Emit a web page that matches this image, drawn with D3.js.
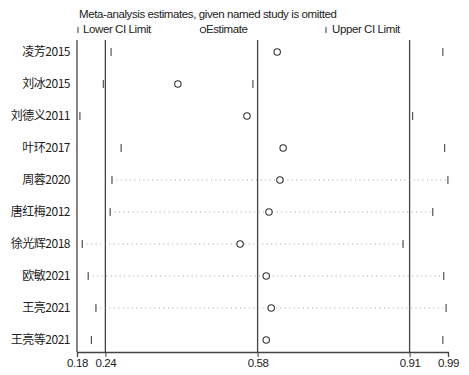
<!DOCTYPE html>
<meta charset="utf-8">
<script src="https://d3js.org/d3.v7.min.js"></script>
<style>
  body { margin: 0; background: #fff; }
  text { font-family: "Liberation Sans", Arial, sans-serif; fill: #222; }
  .lab { font-family: "Noto Sans CJK SC", sans-serif; }
</style>
<div id="my_dataviz"></div>
<script>
    // Data: study omitted, and the pooled estimate with its CI
    const studies = ["凌芳2015", "刘冰2015", "刘德义2011", "叶环2017", "周蓉2020",
        "唐红梅2012", "徐光辉2018", "欧敏2021", "王亮2021", "王亮等2021"]
    const lower = [0.255, 0.238, 0.187, 0.277, 0.257, 0.253, 0.192, 0.205, 0.222, 0.212]
    const estimate = [0.618, 0.401, 0.552, 0.631, 0.624, 0.600, 0.537, 0.594, 0.605, 0.594]
    const upper = [0.980, 0.565, 0.914, 0.984, 0.991, 0.958, 0.893, 0.982, 0.987, 0.980]
    const dotted = [false, false, false, false, true, true, true, true, true, false]
    // reference lines / axis ticks: min lower, combined lower, combined est, combined upper, max upper
    const refTicks = [0.1806, 0.2426, 0.5752, 0.9073, 0.9912]

    const width = 469, height = 375
    const margin = { top: 38, right: 21, bottom: 23, left: 77 }

    const svg = d3.select("#my_dataviz")
        .append("svg")
        .attr("width", width)
        .attr("height", height)

    const x = d3.scaleLinear()
        .domain([refTicks[0], refTicks[4]])
        .range([margin.left, width - margin.right])

    const y = d3.scalePoint()
        .domain(studies)
        .range([52, 340])

    const axisY = height - margin.bottom

    // title and legend
    svg.append("text")
        .attr("x", 79).attr("y", 18)
        .style("font-size", "11.5px")
        .style("letter-spacing", "-0.4px")
        .text("Meta-analysis estimates, given named study is omitted")

    const legend = [
        { x: 78, kind: "tick", label: "Lower CI Limit", dx: 5 },
        { x: 203, kind: "circle", label: "Estimate", dx: 3 },
        { x: 326, kind: "tick", label: "Upper CI Limit", dx: 6 }
    ]
    const lg = svg.selectAll(".lg").data(legend).join("g")
        .attr("transform", d => `translate(${d.x},33)`)
    lg.filter(d => d.kind === "tick").append("line")
        .attr("y1", -6).attr("y2", 0)
        .attr("stroke", "#333")
    lg.filter(d => d.kind === "circle").append("circle")
        .attr("cy", -3).attr("r", 2.8)
        .attr("fill", "none").attr("stroke", "#333")
    lg.append("text")
        .attr("x", d => d.dx)
        .style("font-size", "11.5px")
        .style("letter-spacing", "-0.4px")
        .text(d => d.label)

    // reference vertical lines
    svg.selectAll(".ref")
        .data(refTicks.slice(0, 4))
        .join("line")
        .attr("x1", d => x(d)).attr("x2", d => x(d))
        .attr("y1", 40).attr("y2", axisY)
        .attr("stroke", "#444")
        .attr("stroke-width", 1.3)

    // axis
    const axis = d3.axisBottom(x)
        .tickValues(refTicks)
        .tickFormat(d3.format(".2f"))
        .tickSize(5)
    const ag = svg.append("g")
        .attr("transform", `translate(0,${axisY})`)
        .call(axis)
    ag.select(".domain").attr("stroke", "#444").attr("stroke-width", 1.3)
    ag.selectAll(".tick line").attr("stroke", "#444")
    ag.selectAll(".tick text")
        .attr("y", 7)
        .style("font-size", "11.5px")
        .style("letter-spacing", "-0.4px")
        .style("font-family", "'Liberation Sans', Arial, sans-serif")
        .attr("fill", "#222")

    // rows
    const rows = studies.map((s, i) => ({ s, lo: lower[i], est: estimate[i], hi: upper[i], dot: dotted[i] }))

    const row = svg.selectAll(".row")
        .data(rows)
        .join("g")
        .attr("transform", d => `translate(0,${y(d.s)})`)

    row.append("text")
        .attr("class", "lab")
        .attr("x", 70).attr("y", 4)
        .attr("text-anchor", "end")
        .style("font-size", "12px")
        .style("letter-spacing", "-0.5px")
        .text(d => d.s)

    row.filter(d => d.dot).append("line")
        .attr("x1", d => x(d.lo)).attr("x2", d => x(d.hi))
        .attr("stroke", "#888")
        .attr("stroke-width", 0.8)
        .attr("stroke-dasharray", "1,3.5")

    row.append("line")
        .attr("x1", d => x(d.lo)).attr("x2", d => x(d.lo))
        .attr("y1", -4).attr("y2", 4)
        .attr("stroke", "#333").attr("stroke-width", 1)
    row.append("line")
        .attr("x1", d => x(d.hi)).attr("x2", d => x(d.hi))
        .attr("y1", -4).attr("y2", 4)
        .attr("stroke", "#333").attr("stroke-width", 1)
    row.append("circle")
        .attr("cx", d => x(d.est))
        .attr("r", 3.2)
        .attr("fill", "#fff")
        .attr("stroke", "#333")
        .attr("stroke-width", 1.1)
</script>
